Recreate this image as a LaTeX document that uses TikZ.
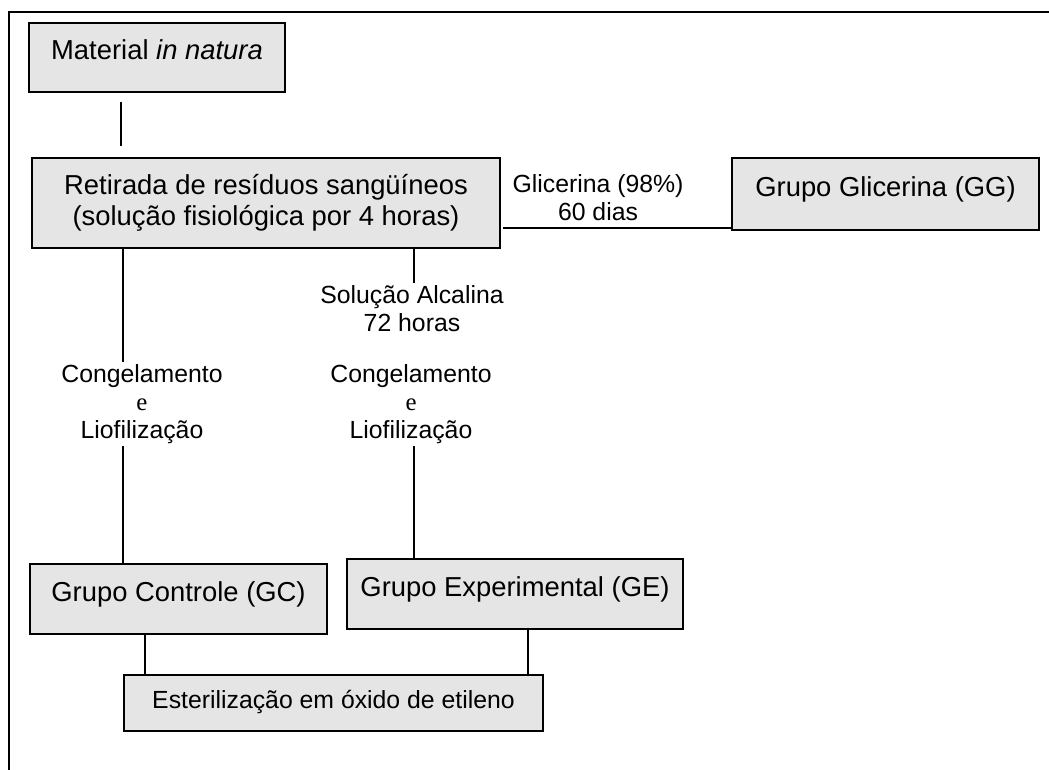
\documentclass[tikz,border=0pt]{standalone}
\usepackage{fontspec}
\setmainfont{Liberation Sans}
\newfontfamily\eserif{Liberation Serif}
\usepackage{tikz}
\usetikzlibrary{positioning}
\usetikzlibrary{calc}
\definecolor{boxgray}{gray}{0.9}
\newcommand\boxfont{\fontsize{13.7}{15.5}\selectfont}
\newcommand\labfont{\fontsize{12.4}{14}\selectfont}
\tikzset{%
  stagebox/.style={rectangle,draw=black,line width=1pt,fill=boxgray,
    inner sep=0pt,align=center,font=\boxfont},
  % single line boxes keep their text a bit above the middle
  lineup/.style={text height=10pt,text depth=7.5pt},
  steplabel/.style={align=center,inner sep=1pt,font=\labfont},
  link/.style={line width=0.8pt}
}

\begin{document}
\begin{tikzpicture}[x=0.5pt,y=-0.5pt]
    \useasboundingbox (0,0) rectangle (1049,770);
    \draw[line width=1pt] (1060,12) -- (9,12) -- (9,780);
    % boxes
    \node[stagebox,lineup,minimum width=128pt,minimum height=34.5pt] (mat) at (157,57.5) {Material \textit{in natura}};
    \node[stagebox,minimum width=234pt,minimum height=45pt] (ret) at (266,203)
        {Retirada de resíduos sangüíneos\\(solução fisiológica por 4 horas)};
    \node[stagebox,lineup,minimum width=153.5pt,minimum height=36pt] (gg) at (885.5,194) {Grupo Glicerina (GG)};
    \node[stagebox,lineup,minimum width=148.5pt,minimum height=35pt] (ctl) at (178.5,599) {Grupo Controle (GC)};
    \node[stagebox,lineup,minimum width=168pt,minimum height=35pt] (exp) at (515,594) {Grupo Experimental (GE)};
    \node[stagebox,minimum width=209.5pt,minimum height=28pt,font=\labfont,
        text height=9pt,text depth=4pt] (ster) at (333.5,703)
        {Esterilização em óxido de etileno};
    % labels
    \node[steplabel] (gly) at (598,198) {Glicerina (98\%)\\60 dias};
    \node[steplabel] (alc) at (412,309) {Solução Alcalina\\72 horas};
    \node[steplabel] (congA) at (142,404) {Congelamento\\{\eserif e}\hspace*{15pt}\\Liofilização};
    \node[steplabel] (congB) at (411,404) {Congelamento\\{\eserif e}\\Liofilização};
    % connector columns
    \coordinate (colM) at (121,0);
    \coordinate (colA) at (123,0);
    \coordinate (colB) at (414,0);
    \coordinate (colC) at (145,0);
    \coordinate (colD) at (528,0);
    \coordinate (glyIn) at (503,228);
    \draw[link,shorten <=4.5pt,shorten >=5.5pt] (mat.south -| colM) -- (ret.north -| colM);
    \draw[link] (ret.south -| colA) -- (congA.north -| colA);
    \draw[link] (congA.south -| colA) -- (ctl.north -| colA);
    \draw[link] (ret.south -| colB) -- (alc.north -| colB);
    \draw[link] (congB.south -| colB) -- (exp.north -| colB);
    \draw[link] (glyIn) -- (gg.west |- glyIn);
    \draw[link] (ctl.south -| colC) -- (ster.north -| colC);
    \draw[link] (exp.south -| colD) -- (ster.north -| colD);
\end{tikzpicture}
\end{document}
